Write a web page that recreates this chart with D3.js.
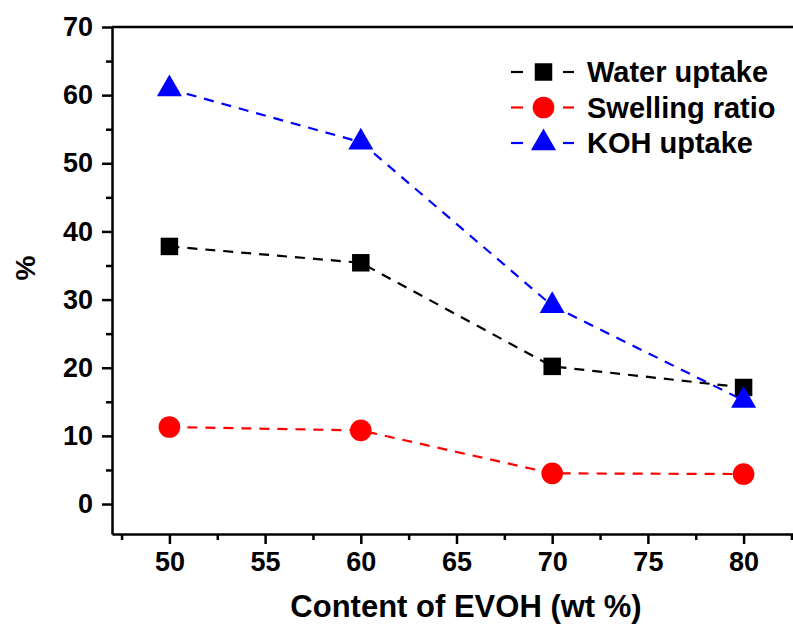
<!DOCTYPE html>
<html>
<head>
<meta charset="utf-8">
<script src="https://cdn.jsdelivr.net/npm/d3@7"></script>
<style>
  body { margin: 0; background: #fff; }
  text { font-family: "Liberation Sans", Arial, sans-serif; font-weight: bold; }
</style>
</head>
<body>
<div id="chart"></div>
<script>
const xValues = [50, 60, 70, 80];
const waterUptake = [37.8, 35.4, 20.2, 17.1];
const swellingRatio = [11.3, 10.8, 4.5, 4.4];
const kohUptake = [60.9, 53.1, 29.1, 15.2];
const xTicks = [50, 55, 60, 65, 70, 75, 80];
const yTicks = [0, 10, 20, 30, 40, 50, 60, 70];
const seriesNames = ["Water uptake", "Swelling ratio", "KOH uptake"];

const width = 793, height = 631;
const plotLeft = 112, plotTop = 27, plotRight = 801, plotBottom = 534;

const svg = d3.select("#chart").append("svg")
    .attr("width", width)
    .attr("height", height);

const x = d3.scaleLinear().domain([47, 83]).range([plotLeft, plotRight]);
const y = d3.scaleLinear().domain([-4.4, 70]).range([plotBottom, plotTop]);

// minor ticks
svg.append("g")
    .attr("transform", `translate(0,${plotBottom})`)
    .call(d3.axisBottom(x).tickValues(d3.range(47.5, 83, 5)).tickSize(6).tickFormat(""))
    .call(g => g.select(".domain").remove())
    .selectAll("line").attr("stroke-width", 2.5);
svg.append("g")
    .attr("transform", `translate(${plotLeft},0)`)
    .call(d3.axisLeft(y).tickValues(d3.range(5, 70, 10)).tickSize(6).tickFormat(""))
    .call(g => g.select(".domain").remove())
    .selectAll("line").attr("stroke-width", 2.5);

// major axes
const xAxis = svg.append("g")
    .attr("transform", `translate(0,${plotBottom})`)
    .call(d3.axisBottom(x).tickValues(xTicks).tickSize(10).tickPadding(8).tickSizeOuter(0));
const yAxis = svg.append("g")
    .attr("transform", `translate(${plotLeft},0)`)
    .call(d3.axisLeft(y).tickValues(yTicks).tickSize(10).tickPadding(9).tickSizeOuter(0));

[xAxis, yAxis].forEach(g => {
    g.select(".domain").attr("stroke-width", 2.5);
    g.selectAll(".tick line").attr("stroke-width", 2.5);
    g.selectAll("text").attr("font-size", 27).attr("fill", "#000")
        .style("font-family", "'Liberation Sans', Arial, sans-serif").style("font-weight", "bold");
});

// top frame line
svg.append("line")
    .attr("x1", plotLeft).attr("x2", plotRight)
    .attr("y1", plotTop).attr("y2", plotTop)
    .attr("stroke", "#000").attr("stroke-width", 2.5);

// axis titles
svg.append("text")
    .attr("x", 466).attr("y", 617)
    .attr("text-anchor", "middle")
    .attr("font-size", 31)
    .text("Content of EVOH (wt %)");
svg.append("text")
    .attr("transform", "translate(35,268) rotate(-90)")
    .attr("text-anchor", "middle")
    .attr("font-size", 28)
    .text("%");

const series = [
    { name: seriesNames[0], values: waterUptake, color: "#000", shape: d3.symbolSquare, size: 306 },
    { name: seriesNames[1], values: swellingRatio, color: "#ff0000", shape: d3.symbolCircle, size: 368 },
    { name: seriesNames[2], values: kohUptake, color: "#0000ff", shape: d3.symbolTriangle, size: 272 }
];

const line = d3.line()
    .x((d, i) => x(xValues[i]))
    .y(d => y(d));

series.forEach(s => {
    svg.append("path")
        .datum(s.values)
        .attr("d", line)
        .attr("fill", "none")
        .attr("stroke", s.color)
        .attr("stroke-width", 2.2)
        .attr("stroke-dasharray", "10,8");
});

series.forEach(s => {
    svg.selectAll(null)
        .data(s.values)
        .join("path")
        .attr("d", d3.symbol().type(s.shape).size(s.size))
        .attr("transform", (d, i) => `translate(${x(xValues[i])},${y(d)})`)
        .attr("fill", s.color);
});

// legend
const legend = svg.append("g").attr("transform", "translate(511,72)");
series.forEach((s, i) => {
    const g = legend.append("g").attr("transform", `translate(0,${i * 35.5})`);
    g.append("line").attr("x1", 0).attr("x2", 12).attr("stroke", s.color).attr("stroke-width", 2.2);
    g.append("line").attr("x1", 52).attr("x2", 63).attr("stroke", s.color).attr("stroke-width", 2.2);
    g.append("path")
        .attr("d", d3.symbol().type(s.shape).size(s.size))
        .attr("transform", "translate(32.5,0)")
        .attr("fill", s.color);
    g.append("text")
        .attr("x", 76).attr("y", 0).attr("dy", "0.35em")
        .attr("font-size", 29)
        .text(s.name);
});
</script>
</body>
</html>
